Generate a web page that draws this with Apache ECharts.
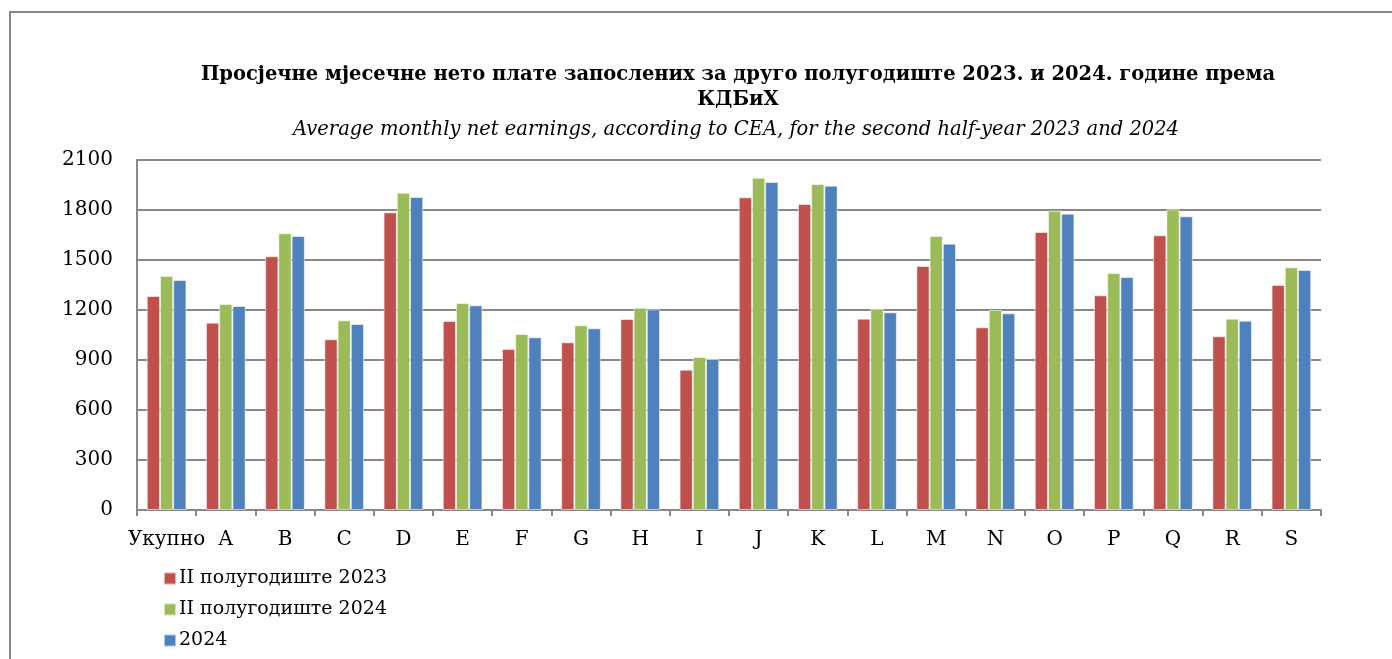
<!DOCTYPE html>
<html>
<head>
<meta charset="utf-8">
<style>
html,body{margin:0;padding:0;background:#fff;}
#chart{width:1392px;height:659px;}
</style>
<script src="https://cdn.jsdelivr.net/npm/echarts@6/dist/echarts.min.js"></script>
</head>
<body>
<div id="chart"></div>
<script>
const categories = ['Укупно','A','B','C','D','E','F','G','H','I','J','K','L','M','N','O','P','Q','R','S'];
const seriesNames = ['II полугодиште 2023','II полугодиште 2024','2024'];
const h2023 = [1284,1124,1522,1024,1786,1134,966,1006,1146,842,1876,1836,1148,1464,1096,1668,1288,1648,1042,1350];
const h2024 = [1404,1236,1660,1138,1904,1242,1056,1108,1214,918,1994,1956,1208,1644,1200,1796,1422,1804,1148,1456];
const y2024 = [1380,1224,1644,1116,1878,1228,1036,1090,1204,906,1968,1946,1186,1598,1180,1778,1398,1762,1136,1440];
const yTicks = [0,300,600,900,1200,1500,1800,2100];
const colors = ['#C0504D','#9BBB59','#4F81BD'];

const FONT = 'DejaVu Serif';
const chart = echarts.init(document.getElementById('chart'));
const mk = (name, data, i) => ({
  name: name, type: 'bar', data: data,
  barGap: '0%', barCategoryGap: '33%',
  itemStyle: {color: colors[i], borderColor: 'rgba(255,255,255,0.55)', borderWidth: 1},
  emphasis: {disabled: true}
});
chart.setOption({
  animation: false,
  textStyle: {fontFamily: FONT},
  graphic: [{
    type: 'rect', shape: {x: 10, y: 12, width: 1500, height: 800},
    style: {fill: 'none', stroke: '#888', lineWidth: 2}, silent: true, z: -10
  }],
  title: [{
    text: 'Просјечне мјесечне нето плате запослених за друго полугодиште 2023. и 2024. године према\nКДБиХ',
    left: 733, top: 57, textAlign: 'center',
    textStyle: {fontFamily: FONT, fontWeight: 'bold', fontSize: 19.5, lineHeight: 25, color: '#000'}
  },{
    text: 'Average monthly net earnings, according to CEA, for the second half-year 2023 and 2024',
    left: 731, top: 115, textAlign: 'center',
    textStyle: {fontFamily: FONT, fontStyle: 'italic', fontWeight: 'normal', fontSize: 19.5, color: '#000'}
  }],
  legend: {
    orient: 'vertical', left: 158, top: 564,
    itemWidth: 12, itemHeight: 12, itemGap: 12,
    icon: 'rect',
    textStyle: {fontFamily: FONT, fontSize: 19, color: '#000', padding: [0,0,0,-2]},
    data: seriesNames
  },
  grid: {left: 137, right: 71, top: 160, bottom: 149, containLabel: false},
  xAxis: {
    type: 'category', data: categories,
    axisLine: {lineStyle: {color: '#888', width: 2}},
    axisTick: {show: true, length: 6, interval: 0, lineStyle: {color: '#888', width: 2}},
    axisLabel: {fontFamily: FONT, fontSize: 20, color: '#000', margin: 20, interval: 0}
  },
  yAxis: {
    type: 'value', min: yTicks[0], max: yTicks[yTicks.length-1], interval: 300,
    axisLine: {show: true, lineStyle: {color: '#888', width: 2}},
    axisTick: {show: false},
    axisLabel: {fontFamily: FONT, fontSize: 20, color: '#000', margin: 24, formatter: v => String(v)},
    splitLine: {lineStyle: {color: '#888', width: 2}}
  },
  series: [mk(seriesNames[0], h2023, 0), mk(seriesNames[1], h2024, 1), mk(seriesNames[2], y2024, 2)]
});
</script>
</body>
</html>
